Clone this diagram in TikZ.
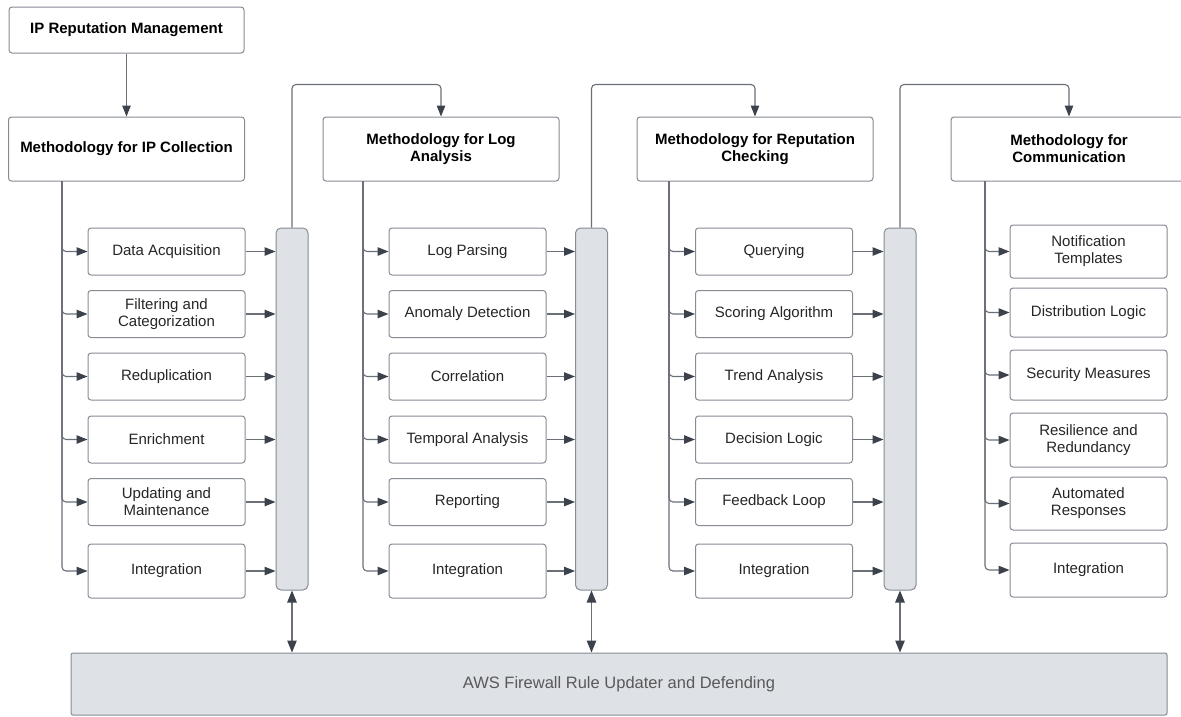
\documentclass[tikz,border=0pt]{standalone}
\usepackage{fontspec}
\setmainfont{Liberation Sans}
\usetikzlibrary{arrows.meta}

\definecolor{boxgray}{HTML}{868B94}
\definecolor{linegray}{HTML}{6A6F78}
\definecolor{tipgray}{HTML}{3B424C}
\definecolor{barfill}{HTML}{DEE1E6}

\begin{document}
\begin{tikzpicture}[x=1pt,y=-1pt]
\tikzstyle{headbox}=[draw=boxgray, line width=1pt, rounded corners=3pt,
  fill=white, align=center, text=black, minimum width=236pt, minimum height=64pt,
  font=\bfseries\fontsize{15}{17}\selectfont]
\tikzstyle{stepbox}=[draw=boxgray, line width=1pt, rounded corners=3pt,
  fill=white, align=center, text=black!85, minimum width=157pt, minimum height=47pt,
  font=\fontsize{15}{17}\selectfont]
\tikzstyle{busbar}=[draw=boxgray, line width=1pt, rounded corners=5pt,
  fill=barfill, minimum width=32pt, minimum height=362pt]
\tikzstyle{link}=[draw=linegray, line width=1.1pt, rounded corners=4pt,
  -{Triangle[length=11pt,width=8.5pt,color=tipgray]}]
\tikzstyle{twoway}=[draw=linegray, line width=1.1pt,
  {Triangle[length=12pt,width=9.5pt,color=tipgray]}-{Triangle[length=12pt,width=9.5pt,color=tipgray]}]

\useasboundingbox (0,0) rectangle (1181,716);
\clip (0,0) rectangle (1181,716);

% top and the four methodologies
\node[headbox, minimum width=235pt, minimum height=46pt] (mgmt) at (126.5,30) {IP Reputation Management};
\node[headbox] (m1) at (126.5,149) {Methodology for IP Collection};
\node[headbox] (m2) at (441,149) {Methodology for Log\\Analysis};
\node[headbox] (m3) at (755,149) {Methodology for Reputation\\Checking};
\node[headbox] (m4) at (1069,149) {Methodology for\\Communication};

% IP collection steps
\node[stepbox] (s11) at (166.5,251.5) {Data Acquisition};
\node[stepbox] (s12) at (166.5,314) {Filtering and\\Categorization};
\node[stepbox] (s13) at (166.5,376.5) {Reduplication};
\node[stepbox] (s14) at (166.5,439.5) {Enrichment};
\node[stepbox] (s15) at (166.5,502) {Updating and\\Maintenance};
\node[stepbox, minimum height=54pt] (s16) at (166.5,571) {Integration};

% log analysis steps
\node[stepbox] (s21) at (467.5,251.5) {Log Parsing};
\node[stepbox] (s22) at (467.5,314) {Anomaly Detection};
\node[stepbox] (s23) at (467.5,376.5) {Correlation};
\node[stepbox] (s24) at (467.5,439.5) {Temporal Analysis};
\node[stepbox] (s25) at (467.5,502) {Reporting};
\node[stepbox, minimum height=54pt] (s26) at (467.5,571) {Integration};

% reputation checking steps
\node[stepbox] (s31) at (774,251.5) {Querying};
\node[stepbox] (s32) at (774,314) {Scoring Algorithm};
\node[stepbox] (s33) at (774,376.5) {Trend Analysis};
\node[stepbox] (s34) at (774,439.5) {Decision Logic};
\node[stepbox] (s35) at (774,502) {Feedback Loop};
\node[stepbox, minimum height=54pt] (s36) at (774,571) {Integration};

% communication steps
\node[stepbox, minimum height=53pt] (s41) at (1088.5,251.5) {Notification\\Templates};
\node[stepbox, minimum height=49pt] (s42) at (1088.5,312.5) {Distribution Logic};
\node[stepbox, minimum height=50pt] (s43) at (1088.5,375) {Security Measures};
\node[stepbox, minimum height=54pt] (s44) at (1088.5,440) {Resilience and\\Redundancy};
\node[stepbox, minimum height=53pt] (s45) at (1088.5,503.5) {Automated\\Responses};
\node[stepbox, minimum height=54pt] (s46) at (1088.5,570) {Integration};

% collecting bars
\node[busbar] (b1) at (292,409) {};
\node[busbar] (b2) at (591.5,409) {};
\node[busbar] (b3) at (900,409) {};

\node[busbar, minimum width=1096pt, minimum height=62pt, rounded corners=2pt,
  text=black!65, font=\fontsize{16.5}{19}\selectfont] (aws) at (619,684)
  {AWS Firewall Rule Updater and Defending};

% trunk points under each methodology
\coordinate (t1) at (62,181);
\coordinate (t2) at (363,181);
\coordinate (t3) at (669,181);
\coordinate (t4) at (985,181);

\draw[link] (mgmt) -- (m1);

\foreach \c in {1,2,3,4}
  \foreach \r in {1,...,6}
    \draw[link] (t\c) |- (s\c\r.west);

\foreach \c in {1,2,3}
  \foreach \r in {1,...,6}
    \draw[link] (s\c\r.east) -- (s\c\r.east -| b\c.west);

\draw[link] (b1.north) -- ++(0,-143) -| (m2.north);
\draw[link] (b2.north) -- ++(0,-143) -| (m3.north);
\draw[link] (b3.north) -- ++(0,-143) -| (m4.north);

\foreach \c in {1,2,3}
  \draw[twoway] (b\c.south) -- (b\c.south |- aws.north);
\end{tikzpicture}
\end{document}
